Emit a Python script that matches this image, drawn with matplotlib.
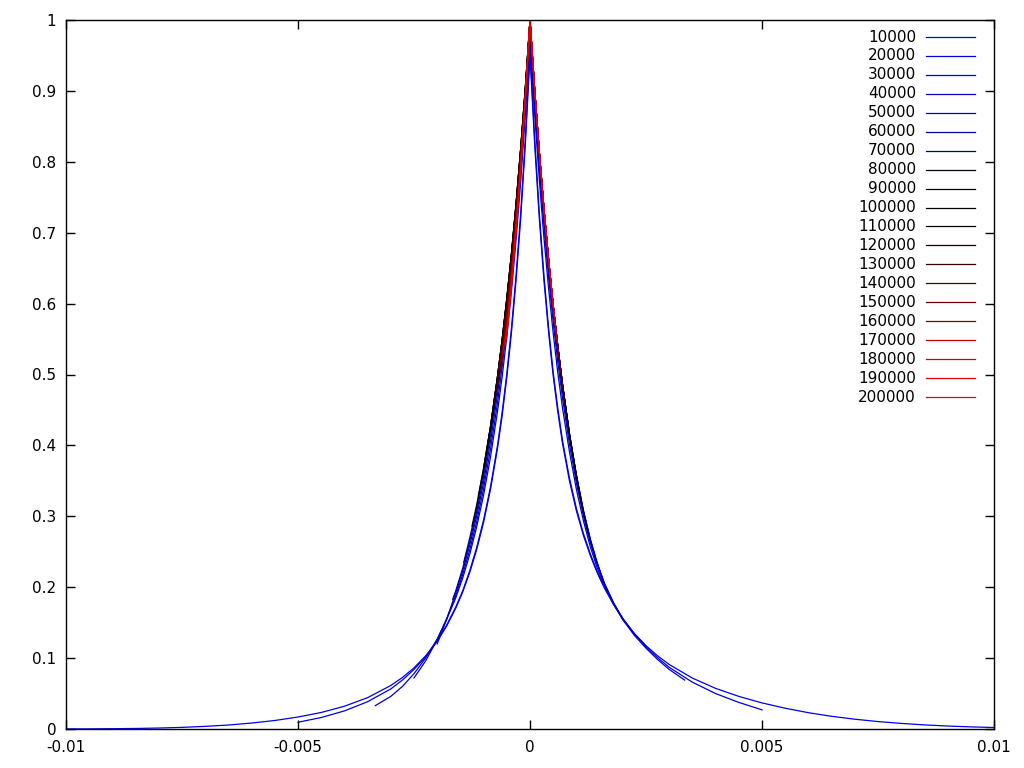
import matplotlib
matplotlib.use("Agg")
import matplotlib.pyplot as plt

plt.rcParams['font.family'] = ['DejaVu Sans']
plt.rcParams['axes.unicode_minus'] = False

# ---- data -------------------------------------------------------------
sizes = [10000, 20000, 30000, 40000, 50000, 60000, 70000, 80000, 90000, 100000,
         110000, 120000, 130000, 140000, 150000, 160000, 170000, 180000, 190000, 200000]

# half width of each curve (x range is -w .. +w)
half_width = [0.01, 0.005, 0.003333, 0.0025, 0.002, 0.001667, 0.001429, 0.00125,
              0.001111, 0.001, 0.000909, 0.000833, 0.000769, 0.000714, 0.000667,
              0.000625, 0.000588, 0.000556, 0.000526, 0.0005]

# distances from the centre at which values were read (plus each curve's end)
dist_grid = [0, 0.0001, 0.0002, 0.0003, 0.0004, 0.0005, 0.0006, 0.0007, 0.00085, 0.001,
             0.00115, 0.0013, 0.00145, 0.0016, 0.0018, 0.002, 0.00225, 0.0025, 0.00275,
             0.003, 0.0035, 0.004, 0.0045, 0.005, 0.0055, 0.006, 0.0065, 0.007, 0.0075,
             0.008, 0.0085, 0.009, 0.0095, 0.01]

left_10000 = [0.95, 0.825, 0.7205, 0.633, 0.559, 0.496, 0.442, 0.396, 0.3385, 0.2916,
              0.2528, 0.2205, 0.1933, 0.1703, 0.1448, 0.124, 0.1031, 0.0863, 0.0726,
              0.0614, 0.0442, 0.0321, 0.0233, 0.0169, 0.012, 0.0084, 0.0056, 0.0037,
              0.0023, 0.00135, 0.00076, 0.0004, 0.0002, 0.0001]
right_10000 = [0.95, 0.825, 0.7205, 0.633, 0.56, 0.498, 0.447, 0.403, 0.35, 0.3076,
               0.2732, 0.2445, 0.2201, 0.1992, 0.1755, 0.1554, 0.1346, 0.1175, 0.1032,
               0.091, 0.0718, 0.0573, 0.046, 0.0368, 0.0293, 0.023, 0.0179, 0.0138,
               0.0105, 0.0079, 0.0058, 0.0042, 0.003, 0.0021]
left_20000 = [0.96, 0.834, 0.728, 0.64, 0.565, 0.501, 0.447, 0.40, 0.342, 0.295, 0.256,
              0.223, 0.195, 0.172, 0.146, 0.124, 0.102, 0.084, 0.069, 0.0565, 0.0385,
              0.0255, 0.0162, 0.0095]
right_20000 = [0.96, 0.834, 0.728, 0.64, 0.566, 0.503, 0.452, 0.407, 0.354, 0.311, 0.276,
               0.247, 0.222, 0.201, 0.177, 0.156, 0.134, 0.116, 0.1005, 0.087, 0.066,
               0.05, 0.0375, 0.027]
left_30000 = [0.97, 0.868, 0.772, 0.69, 0.617, 0.553, 0.497, 0.448, 0.384, 0.33, 0.285,
              0.246, 0.213, 0.185, 0.154, 0.127, 0.10, 0.078, 0.06, 0.046, 0.033]
right_30000 = [0.97, 0.868, 0.775, 0.693, 0.622, 0.558, 0.502, 0.453, 0.391, 0.338, 0.294,
               0.257, 0.227, 0.203, 0.176, 0.154, 0.132, 0.114, 0.098, 0.084, 0.069]
left_40000 = [0.975, 0.878, 0.786, 0.706, 0.633, 0.568, 0.511, 0.46, 0.395, 0.339, 0.292,
              0.252, 0.218, 0.188, 0.155, 0.126, 0.096, 0.072]
right_40000 = [0.975, 0.88, 0.79, 0.71, 0.638, 0.574, 0.517, 0.467, 0.402, 0.347, 0.301,
               0.263, 0.232, 0.206, 0.178, 0.155, 0.134, 0.117]
left_50000 = [0.98, 0.885, 0.797, 0.718, 0.646, 0.582, 0.524, 0.472, 0.406, 0.348, 0.30,
              0.259, 0.223, 0.192, 0.154, 0.12]
right_50000 = [0.98, 0.887, 0.80, 0.721, 0.65, 0.586, 0.529, 0.477, 0.412, 0.355, 0.307,
               0.267, 0.234, 0.206, 0.178, 0.155]
left_60000 = [0.985, 0.89, 0.804, 0.726, 0.655, 0.592, 0.534, 0.482, 0.415, 0.356, 0.306,
              0.264, 0.227, 0.195, 0.183]
right_60000 = [0.985, 0.89, 0.805, 0.727, 0.656, 0.592, 0.535, 0.482, 0.415, 0.358, 0.309,
               0.268, 0.234, 0.205, 0.194]
left_70000 = [0.99, 0.896, 0.81, 0.733, 0.663, 0.60, 0.542, 0.49, 0.422, 0.363, 0.312,
              0.269, 0.235]
right_70000 = [0.99, 0.896, 0.81, 0.731, 0.66, 0.596, 0.538, 0.485, 0.417, 0.358, 0.308,
               0.266, 0.235]
left_80000 = [0.995, 0.902, 0.817, 0.739, 0.668, 0.605, 0.547, 0.495, 0.426, 0.367, 0.316,
              0.286]
right_80000 = [0.995, 0.90, 0.813, 0.733, 0.661, 0.597, 0.539, 0.486, 0.416, 0.357, 0.306,
               0.276]
left_90000 = [1.0, 0.905, 0.819, 0.741, 0.67, 0.607, 0.549, 0.497, 0.427, 0.368, 0.329]
right_90000 = [1.0, 0.902, 0.814, 0.734, 0.662, 0.597, 0.539, 0.486, 0.416, 0.357, 0.318]
left_100000 = [1.0, 0.905, 0.819, 0.741, 0.67, 0.607, 0.549, 0.497, 0.427, 0.368]
right_100000 = [1.0, 0.902, 0.814, 0.734, 0.662, 0.597, 0.539, 0.486, 0.416, 0.357]
left_110000 = [1.0, 0.905, 0.819, 0.741, 0.67, 0.607, 0.549, 0.497, 0.427, 0.403]
right_110000 = [1.0, 0.902, 0.814, 0.734, 0.662, 0.597, 0.539, 0.486, 0.416, 0.392]
left_120000 = [1.0, 0.905, 0.819, 0.741, 0.67, 0.607, 0.549, 0.497, 0.435]
right_120000 = [1.0, 0.902, 0.814, 0.734, 0.662, 0.597, 0.539, 0.486, 0.424]
left_130000 = [1.0, 0.903, 0.816, 0.737, 0.666, 0.602, 0.544, 0.492, 0.461]
right_130000 = [1.0, 0.902, 0.814, 0.734, 0.662, 0.597, 0.539, 0.486, 0.453]
left_140000 = [1.0, 0.90, 0.812, 0.732, 0.66, 0.595, 0.537, 0.485, 0.478]
right_140000 = [1.0, 0.902, 0.814, 0.734, 0.662, 0.597, 0.539, 0.486, 0.479]
left_150000 = [1.0, 0.898, 0.808, 0.727, 0.654, 0.588, 0.53, 0.508]
right_150000 = [1.0, 0.902, 0.814, 0.734, 0.662, 0.597, 0.539, 0.503]
left_160000 = [1.0, 0.895, 0.802, 0.72, 0.645, 0.578, 0.52, 0.505]
right_160000 = [1.0, 0.902, 0.814, 0.734, 0.662, 0.597, 0.539, 0.525]
left_170000 = [1.0, 0.892, 0.797, 0.713, 0.637, 0.568, 0.53]
right_170000 = [1.0, 0.902, 0.814, 0.734, 0.662, 0.597, 0.545]
left_180000 = [1.0, 0.89, 0.793, 0.707, 0.63, 0.56, 0.54]
right_180000 = [1.0, 0.902, 0.814, 0.734, 0.662, 0.597, 0.564]
left_190000 = [1.0, 0.889, 0.79, 0.703, 0.625, 0.555, 0.545]
right_190000 = [1.0, 0.902, 0.814, 0.734, 0.662, 0.597, 0.581]
left_200000 = [1.0, 0.889, 0.79, 0.703, 0.625, 0.555]
right_200000 = [1.0, 0.902, 0.814, 0.734, 0.662, 0.597]

left_values = [left_10000, left_20000, left_30000, left_40000, left_50000, left_60000,
               left_70000, left_80000, left_90000, left_100000, left_110000, left_120000,
               left_130000, left_140000, left_150000, left_160000, left_170000, left_180000,
               left_190000, left_200000]
right_values = [right_10000, right_20000, right_30000, right_40000, right_50000, right_60000,
                right_70000, right_80000, right_90000, right_100000, right_110000, right_120000,
                right_130000, right_140000, right_150000, right_160000, right_170000, right_180000,
                right_190000, right_200000]

colors = ['#0000f0', '#0000e4', '#0000d8', '#0000c8', '#0000b8', '#0000a8', '#000090',
          '#000018', '#000008', '#000000', '#000000', '#180000', '#380000', '#480000',
          '#700000', '#780000', '#c80000', '#d00000', '#e00000', '#e80000']

x_ticks = [-0.01, -0.005, 0, 0.005, 0.01]
x_tick_labels = ['-0.01', '-0.005', '0', '0.005', '0.01']
y_ticks = [0, 0.1, 0.2, 0.3, 0.4, 0.5, 0.6, 0.7, 0.8, 0.9, 1.0]
y_tick_labels = ['0', '0.1', '0.2', '0.3', '0.4', '0.5', '0.6', '0.7', '0.8', '0.9', '1']

# ---- figure -----------------------------------------------------------
fig = plt.figure(figsize=(10.24, 7.68), dpi=100)
ax = fig.add_axes([66 / 1024, 39 / 768, 928 / 1024, 709 / 768])

for n, w, lv, rv, c in zip(sizes, half_width, left_values, right_values, colors):
    d = [g for g in dist_grid if g < w * (1 - 1e-6)] + [w]
    xs = [-v for v in reversed(d)] + d[1:]
    ys = list(reversed(lv)) + rv[1:]
    ax.plot(xs, ys, color=c, lw=0.9, solid_joinstyle='round')

ax.set_xlim(-0.01, 0.01)
ax.set_ylim(0, 1)
ax.set_xticks(x_ticks)
ax.set_xticklabels(x_tick_labels)
ax.set_yticks(y_ticks)
ax.set_yticklabels(y_tick_labels)
ax.tick_params(direction='in', top=True, right=True, length=6.5, width=1,
               labelsize=11, colors='black')
ax.tick_params(axis='x', pad=8)
ax.tick_params(axis='y', pad=7)
for s in ax.spines.values():
    s.set_linewidth(1)

# gnuplot-style key: right-aligned labels with line samples
top_y = (729 - 37) / 709
step = 18.95 / 709
for i, (n, c) in enumerate(zip(sizes, colors)):
    yk = top_y - i * step
    ax.text(0.916, yk, str(n), transform=ax.transAxes, ha='right', va='center',
            fontsize=11)
    ax.plot([0.9267, 0.9795], [yk, yk], transform=ax.transAxes, color=c, lw=0.9)

fig.savefig('out.png', dpi=100)
